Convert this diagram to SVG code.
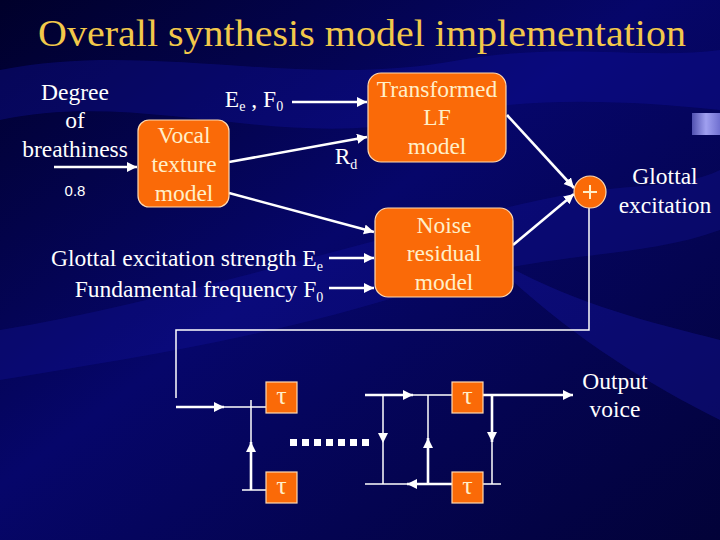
<svg xmlns="http://www.w3.org/2000/svg" width="720" height="540" viewBox="0 0 720 540">
<defs>
<linearGradient id="bg" x1="0" y1="0" x2="1" y2="1">
<stop offset="0" stop-color="#00002a"/>
<stop offset="0.45" stop-color="#06066a"/>
<stop offset="1" stop-color="#020238"/>
</linearGradient>
<linearGradient id="deco" x1="0" y1="0" x2="1" y2="0">
<stop offset="0" stop-color="#5050b0"/>
<stop offset="0.5" stop-color="#a0a0f0"/>
<stop offset="1" stop-color="#7070d0"/>
</linearGradient>
<marker id="arr" markerUnits="userSpaceOnUse" markerWidth="12" markerHeight="12" refX="10" refY="5" orient="auto">
<path d="M0,0 L10,5 L0,10 Z" fill="#ffffff"/>
</marker>
<style>
text{font-family:"Liberation Serif","Times New Roman",serif}
.t{fill:#ffffff;font-size:23.5px;text-anchor:middle}
.bt{fill:#ffefc8;font-size:23.5px;text-anchor:middle}
.tau{fill:#ffefc8;font-size:26px;text-anchor:middle}
.box{fill:#fa6a08;stroke:#ffd9b0;stroke-width:1.2}
.thk{stroke:#ffffff;stroke-width:2.6;fill:none}
.thn{stroke:#ffffff;stroke-width:1.5;fill:none}
.sub{font-size:14px}
</style>
</defs>
<rect width="720" height="540" fill="url(#bg)"/>
<path d="M0,70 C150,40 300,90 460,60 C560,42 650,60 720,50 L720,110 C620,100 520,95 420,120 C280,150 140,90 0,120 Z" fill="#1010a0" opacity="0.35"/>
<path d="M0,330 C180,300 360,240 540,200 C620,182 680,190 720,170 L720,230 C640,260 540,250 420,290 C260,340 120,360 0,380 Z" fill="#1818b0" opacity="0.25"/>
<path d="M480,250 C560,300 640,320 720,340 L720,420 C640,380 560,330 480,250 Z" fill="#1a1ab8" opacity="0.3"/>
<rect x="692" y="113" width="28" height="22" fill="url(#deco)"/>
<text x="362" y="46" font-size="38" fill="#f2c84a" text-anchor="middle" textLength="648" lengthAdjust="spacingAndGlyphs">Overall synthesis model implementation</text>

<g id="labels">
<text class="t" x="75" y="100">Degree</text>
<text class="t" x="75" y="128">of</text>
<text class="t" x="75" y="157">breathiness</text>
<text x="75" y="196" style="font-family:'Liberation Sans',Arial,sans-serif" font-size="15" fill="#ffffff" text-anchor="middle">0.8</text>
<text class="t" x="254" y="107">E<tspan class="sub" dy="4">e</tspan><tspan dy="-4"> , F</tspan><tspan class="sub" dy="4">0</tspan></text>
<text class="t" x="346" y="164">R<tspan class="sub" dy="5">d</tspan></text>
<text class="t" x="187" y="266">Glottal excitation strength E<tspan class="sub" dy="5">e</tspan></text>
<text class="t" x="199" y="297">Fundamental frequency F<tspan class="sub" dy="5">0</tspan></text>
<text class="t" x="665" y="184">Glottal</text>
<text class="t" x="665" y="213">excitation</text>
<text class="t" x="615" y="389">Output</text>
<text class="t" x="615" y="417">voice</text>
</g>

<g id="connectors">
<line class="thk" x1="54" y1="167" x2="137" y2="167" marker-end="url(#arr)"/>
<line class="thk" x1="292" y1="102" x2="367" y2="102" marker-end="url(#arr)"/>
<line class="thk" x1="229" y1="162" x2="367" y2="137" marker-end="url(#arr)"/>
<line class="thk" x1="229" y1="193" x2="374" y2="232" marker-end="url(#arr)"/>
<line class="thk" x1="329" y1="258" x2="374" y2="258" marker-end="url(#arr)"/>
<line class="thk" x1="329" y1="288" x2="374" y2="288" marker-end="url(#arr)"/>
<line class="thk" x1="507" y1="115" x2="574" y2="188" marker-end="url(#arr)"/>
<line class="thk" x1="513" y1="245" x2="574" y2="194" marker-end="url(#arr)"/>
<polyline class="thn" points="589,208 589,330 176,330 176,398"/>
<line class="thk" x1="176" y1="407" x2="224" y2="407" marker-end="url(#arr)"/>
<line class="thn" x1="224" y1="407" x2="266" y2="407"/>
<line class="thn" x1="251" y1="400" x2="251" y2="442"/>
<line class="thk" x1="251" y1="490" x2="251" y2="442" marker-end="url(#arr)"/>
<line class="thn" x1="242" y1="490" x2="266" y2="490"/>
<line class="thk" x1="365" y1="395" x2="413" y2="395" marker-end="url(#arr)"/>
<line class="thn" x1="413" y1="395" x2="452" y2="395"/>
<line class="thn" x1="383" y1="395" x2="383" y2="443" marker-end="url(#arr)"/>
<line class="thn" x1="383" y1="443" x2="383" y2="484"/>
<line class="thn" x1="428" y1="395" x2="428" y2="438"/>
<line class="thk" x1="428" y1="484" x2="428" y2="438" marker-end="url(#arr)"/>
<line class="thn" x1="365" y1="484" x2="407" y2="484"/>
<line class="thk" x1="452" y1="484" x2="407" y2="484" marker-end="url(#arr)"/>
<line class="thk" x1="483" y1="395" x2="573" y2="395" marker-end="url(#arr)"/>
<line class="thk" x1="492" y1="395" x2="492" y2="442" marker-end="url(#arr)"/>
<line class="thn" x1="492" y1="442" x2="492" y2="484"/>
<line class="thn" x1="483" y1="484" x2="501" y2="484"/>
</g>

<g id="dots" fill="#ffffff">
<rect x="290" y="439" width="7" height="7"/>
<rect x="302" y="439" width="7" height="7"/>
<rect x="314" y="439" width="7" height="7"/>
<rect x="326" y="439" width="7" height="7"/>
<rect x="338" y="439" width="7" height="7"/>
<rect x="350" y="439" width="7" height="7"/>
<rect x="362" y="439" width="7" height="7"/>
</g>

<g id="vocal">
<rect class="box" x="138" y="120" width="91" height="87" rx="11"/>
<text class="bt" x="184" y="143">Vocal</text>
<text class="bt" x="184" y="172">texture</text>
<text class="bt" x="184" y="201">model</text>
</g>
<g id="transformed">
<rect class="box" x="368" y="73" width="138" height="89" rx="13"/>
<text class="bt" x="437" y="97">Transformed</text>
<text class="bt" x="437" y="125">LF</text>
<text class="bt" x="437" y="154">model</text>
</g>
<g id="noise">
<rect class="box" x="375" y="208" width="138" height="89" rx="13"/>
<text class="bt" x="444" y="233">Noise</text>
<text class="bt" x="444" y="261">residual</text>
<text class="bt" x="444" y="290">model</text>
</g>
<g id="plus">
<circle class="box" cx="590" cy="192" r="16"/>
<path d="M583,192 H597 M590,185 V199" stroke="#ffefc8" stroke-width="2"/>
</g>
<g id="tau1">
<rect class="box" x="266" y="382" width="31" height="31"/>
<text class="tau" x="281.5" y="404">τ</text>
</g>
<g id="tau2">
<rect class="box" x="266" y="472" width="31" height="31"/>
<text class="tau" x="281.5" y="494">τ</text>
</g>
<g id="tau3">
<rect class="box" x="452" y="382" width="31" height="31"/>
<text class="tau" x="467.5" y="404">τ</text>
</g>
<g id="tau4">
<rect class="box" x="452" y="472" width="31" height="31"/>
<text class="tau" x="467.5" y="494">τ</text>
</g>
</svg>
